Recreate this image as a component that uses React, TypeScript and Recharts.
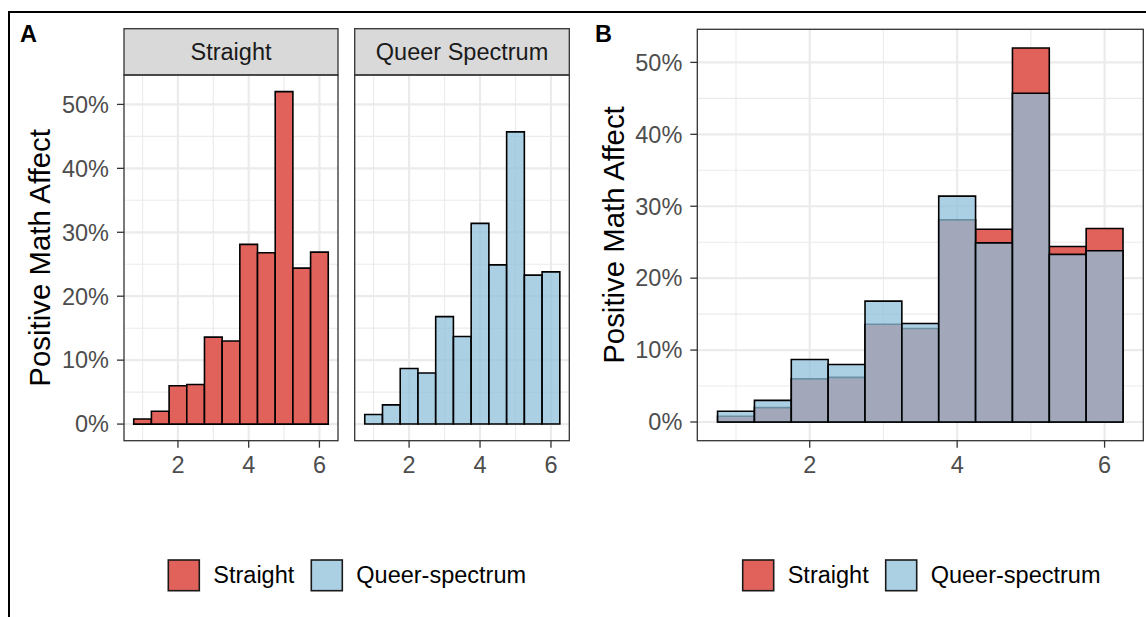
import React from 'react';
import { BarChart, Bar, XAxis, YAxis, CartesianGrid } from 'recharts';

// ---- data ----
const bins = [1, 1.5, 2, 2.5, 3, 3.5, 4, 4.5, 5, 5.5, 6];
const straightPct = [0.8, 2.0, 6.0, 6.2, 13.6, 13.0, 28.1, 26.8, 52.0, 24.4, 26.9];
const queerPct = [1.5, 3.0, 8.7, 8.0, 16.8, 13.7, 31.4, 24.9, 45.7, 23.3, 23.8];
const xTicks = [2, 4, 6];
const xMinor = [1, 3, 5];
const yTicks = [0, 10, 20, 30, 40, 50];
const yMinor = [5, 15, 25, 35, 45];
const facetLabels = ['Straight', 'Queer Spectrum'];
const legendLabels = ['Straight', 'Queer-spectrum'];
const yTitle = 'Positive Math Affect';
const panelLetters = ['A', 'B'];

const data = bins.map((x, i) => ({ x, straight: straightPct[i], queer: queerPct[i] }));

// ---- styles ----
const FONT = '"Liberation Sans", Arial, Helvetica, sans-serif';
const RED = '#E0625B';
const BLUE = '#8FBFDA';
const BLUE_OPACITY = 0.75;
const GRID = '#EBEBEB';
const AXIS_DARK = '#333333';
const TICK_TEXT = '#4D4D4D';
const SMALL = 23.5;
const TITLE = 29.4;
const X_DOMAIN: [number, number] = [0.475, 6.525];
const Y_DOMAIN: [number, number] = [-2.6, 54.6];
const BIN_WIDTH = 0.5;

const seriesStraight = { key: 'straight', fill: RED, opacity: 1 };
const seriesQueer = { key: 'queer', fill: BLUE, opacity: BLUE_OPACITY };

const CH = 500;
const XAXIS_H = 40;
const PLOT_BOTTOM = 440.7;

type Series = { key: string; fill: string; opacity: number };

function HistPanel({
  left,
  yAxisWidth,
  plotWidth,
  plotTop,
  series,
  showY,
}: {
  left: number;
  yAxisWidth: number;
  plotWidth: number;
  plotTop: number;
  series: Series[];
  showY: boolean;
}) {
  const width = yAxisWidth + plotWidth;
  const bottomMargin = CH - XAXIS_H - PLOT_BOTTOM;
  const barSize = (plotWidth * BIN_WIDTH) / (X_DOMAIN[1] - X_DOMAIN[0]) - 0.02;
  return (
    <div style={{ position: 'absolute', left, top: 0 }}>
      <BarChart
        width={width}
        height={CH}
        data={data}
        margin={{ top: plotTop, right: 0, left: 0, bottom: bottomMargin }}
        barCategoryGap={0}
        barGap={0}
      >
        <CartesianGrid stroke={GRID} strokeWidth={1.1} horizontalValues={yMinor} verticalValues={xMinor} />
        <CartesianGrid stroke={GRID} strokeWidth={2.2} horizontalValues={yTicks} verticalValues={xTicks} />
        {series.map((s, i) => (
          <XAxis
            key={'x' + i}
            xAxisId={i}
            hide={i > 0}
            dataKey="x"
            type="number"
            domain={X_DOMAIN}
            allowDataOverflow
            ticks={xTicks}
            interval={0}
            height={XAXIS_H}
            axisLine={false}
            tickSize={7}
            tickMargin={9}
            tickLine={{ stroke: AXIS_DARK, strokeWidth: 1.3 }}
            tick={{ fill: TICK_TEXT, fontSize: SMALL, fontFamily: FONT }}
          />
        ))}
        <YAxis
          type="number"
          domain={Y_DOMAIN}
          allowDataOverflow
          ticks={yTicks}
          interval={0}
          hide={!showY}
          width={yAxisWidth}
          axisLine={false}
          tickSize={7}
          tickMargin={8}
          tickLine={{ stroke: AXIS_DARK, strokeWidth: 1.3 }}
          tick={{ fill: TICK_TEXT, fontSize: SMALL, fontFamily: FONT }}
          tickFormatter={(v: number) => `${v}%`}
        />
        {series.map((s, i) => (
          <Bar
            key={s.key}
            xAxisId={i}
            dataKey={s.key}
            fill={s.fill}
            fillOpacity={s.opacity}
            stroke="#000000"
            strokeWidth={1.6}
            barSize={barSize}
            isAnimationActive={false}
          />
        ))}
      </BarChart>
    </div>
  );
}

const facetA = [
  { left: 124, width: 214 },
  { left: 354.7, width: 214.6 },
];
const panelB = { left: 697.3, width: 446 };
const STRIP_TOP = 28.7;
const PLOT_TOP_A = 75;
const PLOT_TOP_B = 29.3;
const legendSeries = [seriesStraight, seriesQueer];
const legendStarts = [168.3, 742.7];

export default function App() {
  return (
    <div
      style={{
        position: 'absolute',
        left: 0,
        top: 0,
        width: 1146,
        height: 617,
        background: '#ffffff',
        overflow: 'hidden',
        fontFamily: FONT,
      }}
    >
      <HistPanel left={0} yAxisWidth={facetA[0].left} plotWidth={facetA[0].width} plotTop={PLOT_TOP_A} series={[seriesStraight]} showY />
      <HistPanel left={facetA[1].left} yAxisWidth={0} plotWidth={facetA[1].width} plotTop={PLOT_TOP_A} series={[seriesQueer]} showY={false} />
      <HistPanel left={600} yAxisWidth={panelB.left - 600} plotWidth={panelB.width} plotTop={PLOT_TOP_B} series={[seriesStraight, seriesQueer]} showY />

      <svg
        width={1146}
        height={617}
        style={{ position: 'absolute', left: 0, top: 0, pointerEvents: 'none' }}
        fontFamily={FONT}
      >
        {/* outer frame */}
        <line x1={9} y1={12} x2={1146} y2={12} stroke="#000" strokeWidth={2} />
        <line x1={9} y1={11} x2={9} y2={617} stroke="#000" strokeWidth={2} />

        {/* panel letters */}
        <text x={20} y={42} fontSize={SMALL} fontWeight="bold" fill="#000">{panelLetters[0]}</text>
        <text x={595} y={42} fontSize={SMALL} fontWeight="bold" fill="#000">{panelLetters[1]}</text>

        {/* facet strips and borders */}
        {facetA.map((f, i) => (
          <g key={'f' + i}>
            <rect x={f.left} y={STRIP_TOP} width={f.width} height={PLOT_TOP_A - STRIP_TOP} fill="#D9D9D9" stroke={AXIS_DARK} strokeWidth={1.3} />
            <text x={f.left + f.width / 2} y={60} textAnchor="middle" fontSize={SMALL} fill="#1A1A1A">{facetLabels[i]}</text>
            <rect x={f.left} y={PLOT_TOP_A} width={f.width} height={PLOT_BOTTOM - PLOT_TOP_A} fill="none" stroke={AXIS_DARK} strokeWidth={1.3} />
          </g>
        ))}
        <rect x={panelB.left} y={PLOT_TOP_B} width={panelB.width} height={PLOT_BOTTOM - PLOT_TOP_B} fill="none" stroke={AXIS_DARK} strokeWidth={1.3} />

        {/* y titles */}
        <text transform={`translate(50, ${(PLOT_TOP_A + PLOT_BOTTOM) / 2}) rotate(-90)`} textAnchor="middle" fontSize={TITLE} fill="#000">{yTitle}</text>
        <text transform={`translate(623.7, ${(PLOT_TOP_B + PLOT_BOTTOM) / 2}) rotate(-90)`} textAnchor="middle" fontSize={TITLE} fill="#000">{yTitle}</text>

        {/* legends */}
        {legendStarts.map((sx, li) => (
          <g key={'lg' + li}>
            {legendSeries.map((s, i) => {
              const kx = sx + i * 143;
              return (
                <g key={s.key}>
                  <rect x={kx} y={560} width={31} height={30.7} fill="#ffffff" />
                  <rect x={kx} y={560} width={31} height={30.7} fill={s.fill} fillOpacity={s.opacity} stroke="#1A1A1A" strokeWidth={1.6} />
                  <text x={kx + 45} y={582.8} fontSize={SMALL} fill="#000">{legendLabels[i]}</text>
                </g>
              );
            })}
          </g>
        ))}
      </svg>
    </div>
  );
}
